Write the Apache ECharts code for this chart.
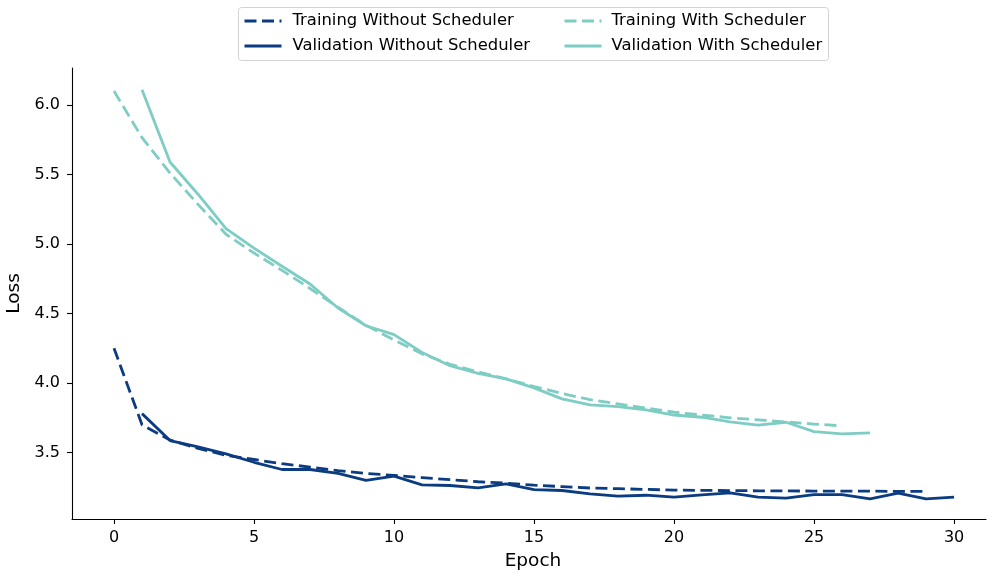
<!DOCTYPE html>
<html>
<head>
<meta charset="utf-8">
<script src="https://cdn.jsdelivr.net/npm/echarts@6/dist/echarts.min.js"></script>
<style>
html,body{margin:0;padding:0;background:#fff;}
#chart{width:987px;height:573px;}
</style>
</head>
<body>
<div id="chart"></div>
<script>
// ---- data ----
const trainNoEpochs = [0,1,2,3,4,5,6,7,8,9,10,11,12,13,14,15,16,17,18,19,20,21,22,23,24,25,26,27,28,29];
const trainNoLoss = [4.25,3.70,3.59,3.53,3.48,3.45,3.42,3.395,3.37,3.35,3.335,3.32,3.305,3.29,3.28,3.265,3.255,3.245,3.24,3.235,3.23,3.228,3.226,3.225,3.224,3.223,3.222,3.222,3.221,3.221];
const valNoEpochs = [1,2,3,4,5,6,7,8,9,10,11,12,13,14,15,16,17,18,19,20,21,22,23,24,25,26,27,28,29,30];
const valNoLoss = [3.78,3.586,3.54,3.49,3.43,3.378,3.378,3.35,3.30,3.33,3.268,3.263,3.246,3.275,3.234,3.227,3.203,3.186,3.193,3.179,3.196,3.21,3.179,3.172,3.198,3.198,3.167,3.208,3.167,3.179];
const trainWithEpochs = [0,1,2,3,4,5,6,7,8,9,10,11,12,13,14,15,16,17,18,19,20,21,22,23,24,25,26];
const trainWithLoss = [6.10,5.765,5.51,5.285,5.07,4.935,4.81,4.68,4.545,4.415,4.31,4.21,4.135,4.08,4.03,3.975,3.925,3.88,3.85,3.82,3.79,3.77,3.75,3.735,3.72,3.705,3.692];
const valWithEpochs = [1,2,3,4,5,6,7,8,9,10,11,12,13,14,15,16,17,18,19,20,21,22,23,24,25,26,27];
const valWithLoss = [6.11,5.59,5.358,5.11,4.97,4.84,4.712,4.54,4.412,4.348,4.22,4.125,4.07,4.03,3.965,3.886,3.843,3.83,3.807,3.77,3.754,3.72,3.698,3.718,3.65,3.634,3.641];
const xTicks = [0,5,10,15,20,25,30];
const yTicks = [3.5,4.0,4.5,5.0,5.5,6.0];
const seriesNames = ['Training Without Scheduler','Validation Without Scheduler','Training With Scheduler','Validation With Scheduler'];

const NAVY = '#0b3b80';
const TEAL = '#7ecdc4';
const FONT = 'DejaVu Sans';

function pairs(xs, ys){ return xs.map((x,i)=>[x, ys[i]]); }

function mkSeries(name, data, color, dashed){
  return {
    name: name, type: 'line', data: data,
    symbol: 'none', showSymbol: false, smooth: false,
    lineStyle: {color: color, width: 2.8, type: dashed ? [12, 5.5] : 'solid', cap: 'butt', join: 'round'},
    itemStyle: {color: color},
    emphasis: {disabled: true},
    animation: false
  };
}

const legendText = {fontFamily: FONT, fontSize: 16.4, color: '#000', lineHeight: 16};

const chart = echarts.init(document.getElementById('chart'), null, {renderer: 'canvas'});
const option = {
  backgroundColor: '#fff',
  animation: false,
  grid: {left: 72, right: 1, top: 68, bottom: 54, containLabel: false, outerBoundsMode: 'none'},
  xAxis: {
    type: 'value', min: -1.5, max: 31.14,
    name: 'Epoch', nameLocation: 'middle', nameGap: 33,
    nameTextStyle: {fontFamily: FONT, fontSize: 18.5, color: '#000', padding: [0,0,0,8]},
    axisLine: {show: true, onZero: false, lineStyle: {color: '#000', width: 1.1}},
    axisTick: {show: true, inside: false, length: 5, customValues: xTicks, lineStyle: {color: '#000', width: 1.1}},
    axisLabel: {show: true, customValues: xTicks, margin: 11, fontFamily: FONT, fontSize: 16, color: '#000',
      formatter: v => String(Math.round(v))},
    splitLine: {show: false}
  },
  yAxis: {
    type: 'value', min: 3.022, max: 6.266,
    name: 'Loss', nameLocation: 'middle', nameGap: 45,
    nameTextStyle: {fontFamily: FONT, fontSize: 18.5, color: '#000'},
    axisLine: {show: true, onZero: false, lineStyle: {color: '#000', width: 1.1}},
    axisTick: {show: true, inside: false, length: 5, customValues: yTicks, lineStyle: {color: '#000', width: 1.1}},
    axisLabel: {show: true, customValues: yTicks, margin: 12, fontFamily: FONT, fontSize: 16, color: '#000',
      formatter: v => v.toFixed(1)},
    splitLine: {show: false}
  },
  graphic: [{
    type: 'rect', z: 0, silent: true,
    shape: {x: 238.5, y: 7.5, width: 590, height: 53, r: 3},
    style: {fill: 'rgba(255,255,255,0.8)', stroke: '#d3d3d3', lineWidth: 1}
  }],
  legend: [
    {
      data: [seriesNames[0], seriesNames[1]], orient: 'vertical', left: 243, top: 13, padding: 0,
      itemWidth: 37, itemHeight: 14, itemGap: 9, selectedMode: false,
      itemStyle: {opacity: 0}, lineStyle: {width: 3},
      textStyle: Object.assign({}, legendText, {padding: [0,0,0,6]})
    },
    {
      data: [seriesNames[2], seriesNames[3]], orient: 'vertical', left: 563, top: 13, padding: 0,
      itemWidth: 37, itemHeight: 14, itemGap: 9, selectedMode: false,
      itemStyle: {opacity: 0}, lineStyle: {width: 3},
      textStyle: Object.assign({}, legendText, {padding: [0,0,0,5]})
    }
  ],
  series: [
    mkSeries(seriesNames[0], pairs(trainNoEpochs, trainNoLoss), NAVY, true),
    mkSeries(seriesNames[1], pairs(valNoEpochs, valNoLoss), NAVY, false),
    mkSeries(seriesNames[2], pairs(trainWithEpochs, trainWithLoss), TEAL, true),
    mkSeries(seriesNames[3], pairs(valWithEpochs, valWithLoss), TEAL, false)
  ]
};
chart.setOption(option);
</script>
</body>
</html>
